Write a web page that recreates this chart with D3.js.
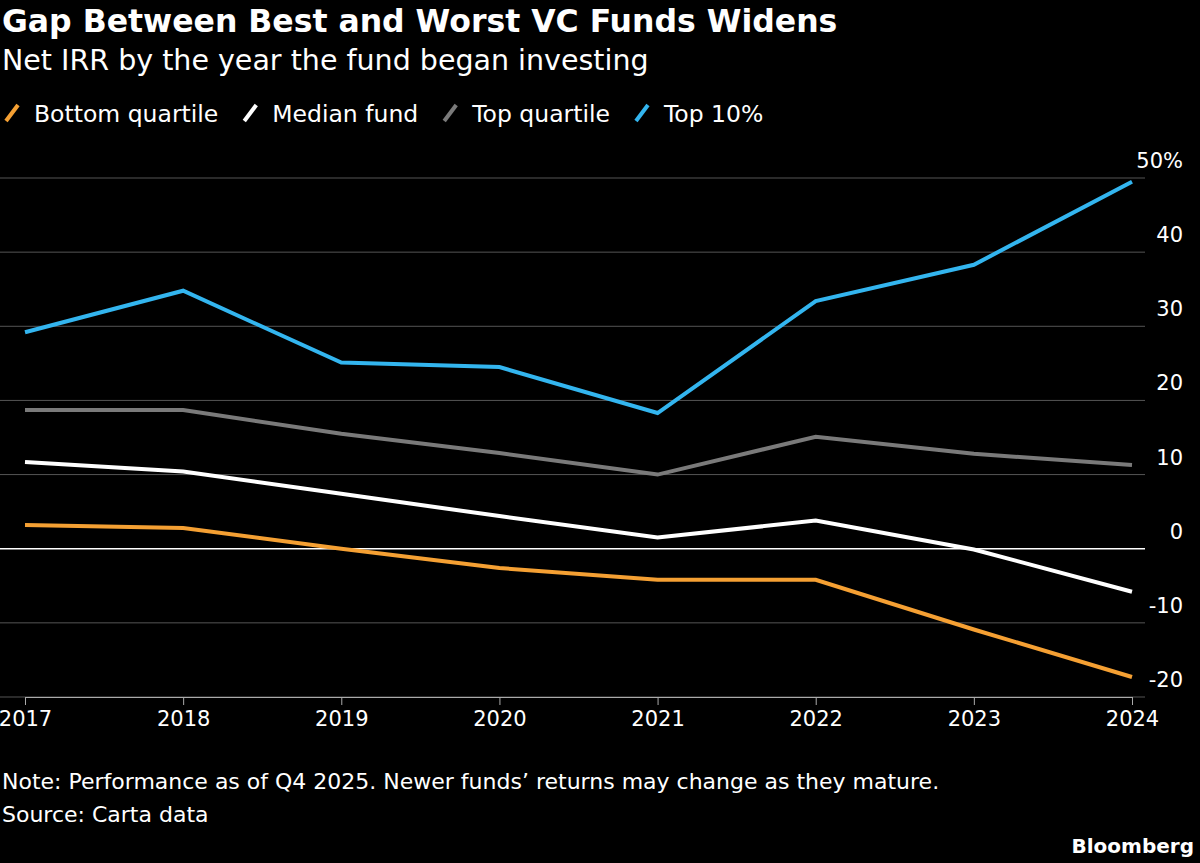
<!DOCTYPE html>
<html><head><meta charset="utf-8">
<script src="https://cdn.jsdelivr.net/npm/d3@7"></script>
<style>
body{margin:0;background:#000;}
text{font-family:"DejaVu Sans",sans-serif;}
</style></head>
<body>
<svg id="chart" width="1200" height="863"></svg>
<script>
// years and series
const years = [2017, 2018, 2019, 2020, 2021, 2022, 2023, 2024];
const bottomQuartile = [3.2, 2.8, 0.0, -2.6, -4.2, -4.2, -10.9, -17.3];
const medianFund = [11.7, 10.4, 7.4, 4.4, 1.5, 3.8, -0.1, -5.8];
const topQuartile = [18.7, 18.7, 15.5, 12.9, 10.0, 15.1, 12.8, 11.3];
const top10 = [29.2, 34.8, 25.1, 24.5, 18.3, 33.4, 38.3, 49.5];
const yTicks = [-20, -10, 0, 10, 20, 30, 40, 50];

const series = [
  {name: "Bottom quartile", values: bottomQuartile, color: "#f5a033"},
  {name: "Median fund", values: medianFund, color: "#ffffff"},
  {name: "Top quartile", values: topQuartile, color: "#7a7a7a"},
  {name: "Top 10%", values: top10, color: "#33b5ef"}
];

const svg = d3.select("#chart");
const x = d3.scaleLinear().domain([2017, 2024]).range([25, 1132]);
const y = d3.scaleLinear().domain([-20, 50]).range([697, 178]);

svg.append("text").attr("x", 2).attr("y", 32).attr("fill", "#fff")
  .attr("font-size", 31.5).attr("font-weight", "bold").text("Gap Between Best and Worst VC Funds Widens");
svg.append("text").attr("x", 2).attr("y", 70).attr("fill", "#fff")
  .attr("font-size", 28.5).text("Net IRR by the year the fund began investing");

// legend
let lx = 6;
series.forEach(s => {
  const g = svg.append("g").attr("transform", `translate(${lx},113)`);
  g.append("line").attr("x1", 0).attr("y1", 8).attr("x2", 12).attr("y2", -8)
    .attr("stroke", s.color).attr("stroke-width", 4);
  const t = g.append("text").attr("x", 28).attr("y", 9).attr("fill", "#fff")
    .attr("font-size", 23.5).text(s.name);
  lx += 28 + t.node().getComputedTextLength() + 26;
});

// grid
svg.selectAll(".grid").data(yTicks).join("line")
  .attr("x1", 0).attr("x2", 1145)
  .attr("y1", d => y(d)).attr("y2", d => y(d))
  .attr("stroke", d => d === 0 ? "#fff" : "#555")
  .attr("stroke-width", d => d === 0 ? 1.5 : 1);
svg.selectAll(".ylab").data(yTicks).join("text")
  .attr("x", 1183).attr("y", d => y(d) - 10)
  .attr("text-anchor", "end").attr("fill", "#fff").attr("font-size", 21)
  .text(d => d === 50 ? "50%" : d);

// x axis
const xa = svg.append("g").attr("transform", `translate(0,${y(-20)})`)
  .call(d3.axisBottom(x).tickValues(years).tickFormat(d3.format("d")).tickSize(8).tickPadding(6));
xa.select(".domain").attr("stroke", "#aaa");
xa.selectAll("line").attr("stroke", "#aaa");
xa.selectAll("text").attr("fill", "#fff").attr("font-size", 21)
  .style("font-family", "DejaVu Sans, sans-serif");

// lines
const line = d3.line().x((d, i) => x(years[i])).y(d => y(d));
series.forEach(s => {
  svg.append("path").datum(s.values).attr("d", line)
    .attr("fill", "none").attr("stroke", s.color).attr("stroke-width", 4);
});

svg.append("text").attr("x", 2).attr("y", 789).attr("fill", "#fff").attr("font-size", 22)
  .text("Note: Performance as of Q4 2025. Newer funds\u2019 returns may change as they mature.");
svg.append("text").attr("x", 2).attr("y", 822).attr("fill", "#fff").attr("font-size", 22)
  .text("Source: Carta data");
svg.append("text").attr("x", 1194).attr("y", 853).attr("fill", "#fff").attr("font-size", 20)
  .attr("font-weight", "bold").attr("text-anchor", "end").text("Bloomberg");
</script>
</body></html>
